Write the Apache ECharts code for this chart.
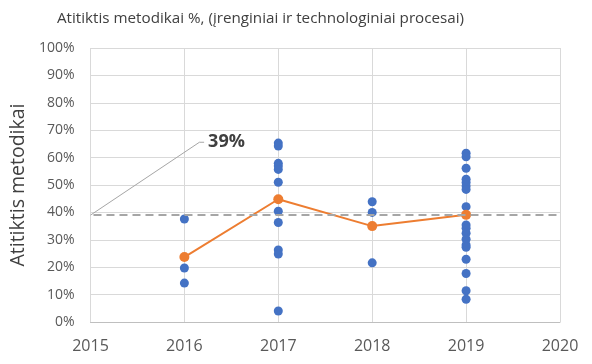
<!DOCTYPE html>
<html><head><meta charset="utf-8">
<script src="https://cdn.jsdelivr.net/npm/echarts@6/dist/echarts.min.js"></script>
<style>html,body{margin:0;padding:0;background:#fff}#c{width:592px;height:364px}</style>
</head><body><div id="c"></div>
<script>
const titleText = 'Atitiktis metodikai %, (įrenginiai ir technologiniai procesai)';
const yAxisName = 'Atitiktis metodikai';
const yearTicks = [2015, 2016, 2017, 2018, 2019, 2020];
const years = [2016, 2017, 2018, 2019];
const values2016 = [37.6, 19.7, 14.2];
const values2017 = [65.3, 64.2, 57.9, 56.9, 55.7, 51.0, 40.4, 36.3, 26.3, 24.8, 4.0];
const values2018 = [43.9, 40.0, 21.6];
const values2019 = [61.6, 60.3, 56.1, 52.1, 50.9, 49.6, 48.4, 42.1, 35.4, 34.2, 32.4, 30.2, 28.1, 27.3, 22.9, 17.7, 11.4, 8.3];
const averages = [23.7, 44.8, 35.0, 39.1];
const overallAverage = 39;
const annotationLabel = '39%';
const annotationPath = [[2015, 39], [2016.16, 65.6], [2016.21, 65.6]];

const groups = [values2016, values2017, values2018, values2019];
const scatterData = [];
groups.forEach((g, i) => g.forEach(v => scatterData.push([years[i], v])));
const avgData = years.map((y, i) => [y, averages[i]]);

const chart = echarts.init(document.getElementById('c'), null, {renderer: 'canvas'});
const font = '"Open Sans", "Liberation Sans", sans-serif';
chart.setOption({
  animation: false,
  backgroundColor: '#fff',
  textStyle: {fontFamily: font},
  title: {
    text: titleText, left: 52, top: 6,
    textStyle: {fontFamily: font, fontSize: 15.2, fontWeight: 'normal', color: '#404040'}
  },
  grid: {left: 90, right: 32, top: 48, bottom: 42},
  xAxis: {
    type: 'value', min: 2015, max: 2020, interval: 1,
    axisLine: {show: true, lineStyle: {color: '#BFBFBF'}},
    axisTick: {show: false},
    splitLine: {show: true, lineStyle: {color: '#D9D9D9'}},
    axisLabel: {color: '#595959', fontSize: 16, margin: 16, formatter: v => String(v)}
  },
  yAxis: {
    type: 'value', min: 0, max: 100, interval: 10,
    name: yAxisName, nameLocation: 'middle', nameGap: 50, nameRotate: 90,
    nameTextStyle: {fontSize: 19.5, color: '#404040', fontFamily: font},
    axisLine: {show: false}, axisTick: {show: false},
    splitLine: {show: true, lineStyle: {color: '#D9D9D9'}},
    axisLabel: {color: '#595959', fontSize: 14, margin: 16, formatter: v => v + '%'}
  },
  series: [
    {
      type: 'scatter', data: scatterData, symbolSize: 9,
      itemStyle: {color: '#4472C4', opacity: 1}, z: 3
    },
    {
      type: 'line', data: avgData, symbol: 'circle', symbolSize: 10,
      lineStyle: {color: '#ED7D31', width: 2}, itemStyle: {color: '#ED7D31', opacity: 1}, z: 4,
      markLine: {
        silent: true, symbol: 'none', label: {show: false},
        lineStyle: {color: '#A6A6A6', type: [8, 5], dashOffset: -3, width: 2},
        data: [{yAxis: overallAverage}]
      }
    },
    {
      type: 'line', data: annotationPath, symbol: 'none', showSymbol: false, z: 2, silent: true,
      lineStyle: {color: '#A6A6A6', width: 1},
      endLabel: {
        show: true, distance: 4,
        formatter: () => annotationLabel,
        fontSize: 18, fontWeight: 'bold', color: '#404040', fontFamily: font
      }
    }
  ]
});
</script></body></html>
